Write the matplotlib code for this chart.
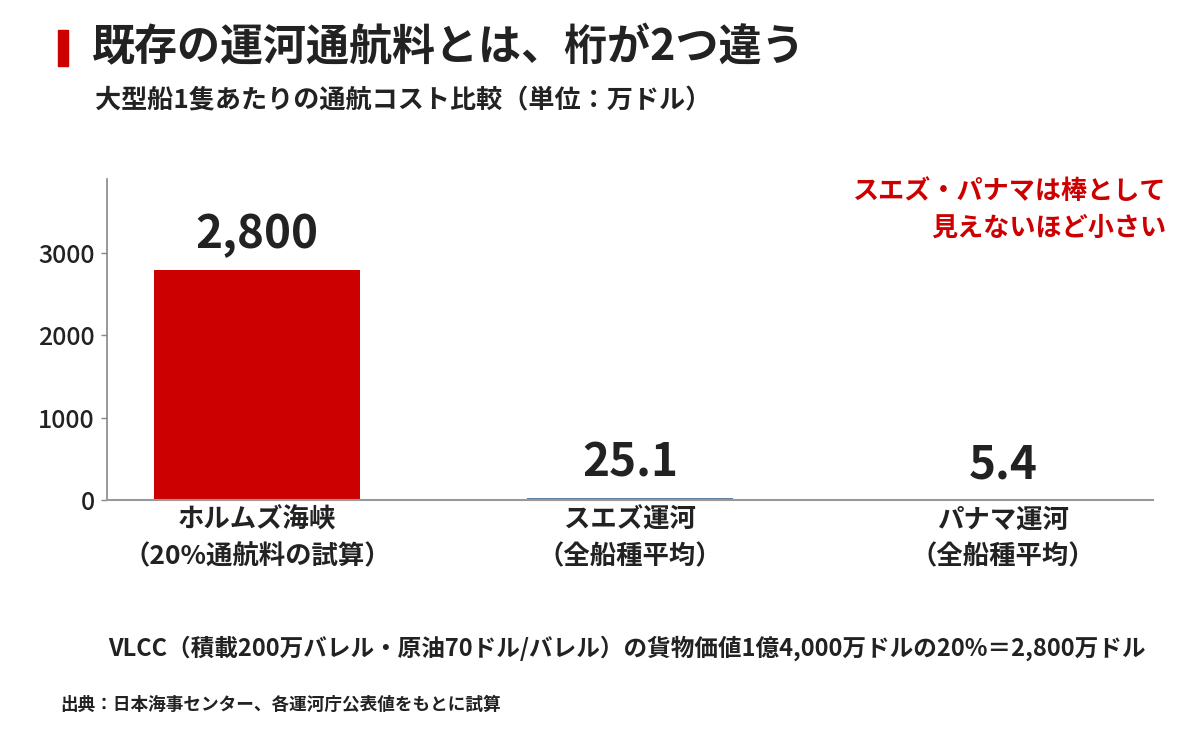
import matplotlib
matplotlib.use("Agg")
import matplotlib.pyplot as plt
from matplotlib.patches import Rectangle

plt.rcParams['font.family'] = ['Noto Sans CJK JP', 'DejaVu Sans']

categories = ["ホルムズ海峡\n（20%通航料の試算）", "スエズ運河\n（全船種平均）", "パナマ運河\n（全船種平均）"]
values = [2800, 25.1, 5.4]
value_labels = ["2,800", "25.1", "5.4"]
bar_colors = ["#cc0000", "#5b7e9c", "#a8c0d6"]
yticks = [0, 1000, 2000, 3000]

title = "既存の運河通航料とは、桁が2つ違う"
subtitle = "大型船1隻あたりの通航コスト比較（単位：万ドル）"
note_red = "スエズ・パナマは棒として\n見えないほど小さい"
footnote = "VLCC（積載200万バレル・原油70ドル/バレル）の貨物価値1億4,000万ドルの20%＝2,800万ドル"
source = "出典：日本海事センター、各運河庁公表値をもとに試算"

TXT = "#222222"
W, H = 1200, 748
fig = plt.figure(figsize=(W/100, H/100), dpi=100)
fig.patch.set_facecolor("white")

ax = fig.add_axes([107/W, 1-500/H, (1153-107)/W, (500-179)/H])
x = list(range(len(values)))
ax.bar(x, values, width=0.55, color=bar_colors, zorder=2)
ax.set_xlim(-0.402, 2.402)
ax.set_ylim(0, 3900)
ax.set_yticks(yticks)
ax.set_yticklabels([str(t) for t in yticks], fontsize=18, color=TXT, fontweight='medium')
ax.set_xticks(x)
ax.set_xticklabels(categories, fontsize=19, color=TXT, fontweight='bold', linespacing=1.45)
ax.tick_params(axis='x', length=0, pad=5)
ax.tick_params(axis='y', length=4, width=1, color='#888888', pad=5)
for s in ['top', 'right']:
    ax.spines[s].set_visible(False)
ax.spines['left'].set_color('#888888')
ax.spines['bottom'].set_color('#999999')
ax.spines['left'].set_linewidth(1.2)
ax.spines['bottom'].set_linewidth(1.5)
ax.spines['bottom'].set_zorder(3)

for xi, v, lab in zip(x, values, value_labels):
    ax.annotate(lab, (xi, v), xytext=(0, 8), textcoords='offset points',
                ha='center', va='bottom', fontsize=33, fontweight='bold', color=TXT)

# title marker
fig.patches.append(Rectangle((58/W, 1-66/H), 10/W, 36/H, transform=fig.transFigure,
                             color="#cc0000", zorder=5))
fig.text(92/W, 1-47/H, title, fontsize=31, fontweight='bold', color=TXT, va='center', ha='left')
fig.text(95/W, 1-101/H, subtitle, fontsize=18.8, fontweight='bold', color=TXT, va='center', ha='left')
fig.text(1166/W, 1-210/H, note_red, fontsize=18.8, fontweight='bold', color="#cc0000",
         va='center', ha='right', linespacing=1.45)
fig.text(627/W, 1-648/H, footnote, fontsize=17, fontweight='bold', color=TXT, va='center', ha='center')
fig.text(60/W, 1-705/H, source, fontsize=12.7, fontweight='bold', color=TXT, va='center', ha='left')

fig.savefig("out.png", dpi=100, facecolor="white")
